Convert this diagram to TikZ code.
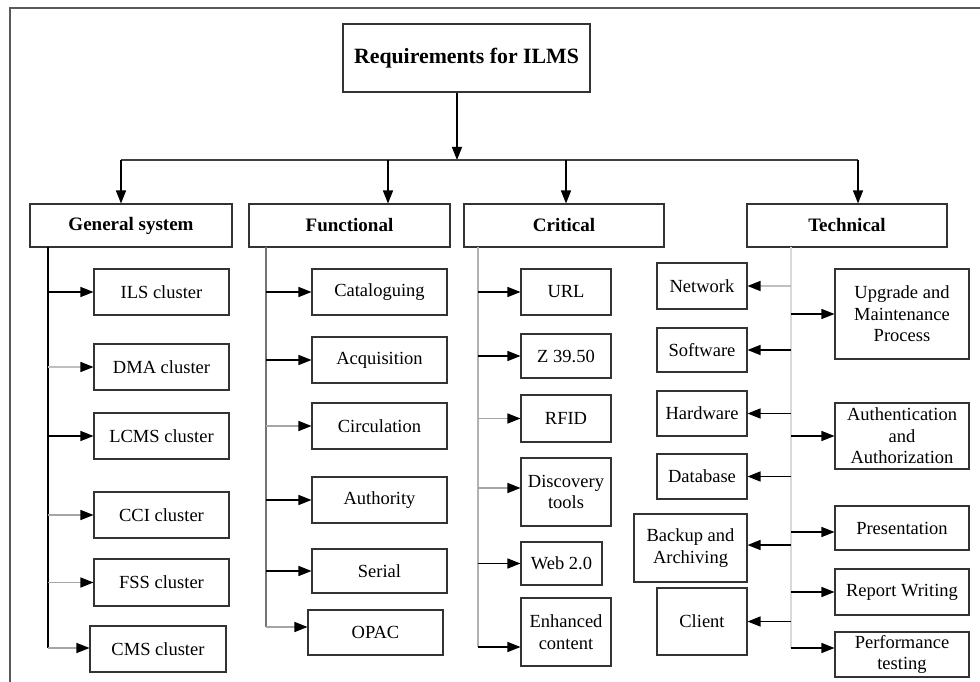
\documentclass[tikz,border=0pt]{standalone}
\usepackage{fontspec}
\setmainfont{Liberation Serif}
\usetikzlibrary{arrows.meta}
\begin{document}
\begin{tikzpicture}[x=1pt,y=-1pt,
  box/.style={draw=black!80, line width=1.1pt, inner sep=0pt, align=center, font=\fontsize{18.5}{21.5}\selectfont},
  cat/.style={box, font=\fontsize{19}{22}\selectfont\bfseries},
  ln/.style={line width=1.3pt},
  arr/.style={line width=1.3pt, -{Triangle[length=13pt,width=10pt,color=black]}},
  arrg/.style={arr, draw=black!35},
  arrl/.style={arr, draw=black!25}
]
\useasboundingbox (0,0) rectangle (980,682);
% frame
\draw[line width=1.2pt, black!65] (10,682) -- (10,8) -- (980,8);

% top
\node[box, font=\fontsize{21.8}{25}\selectfont\bfseries, minimum width=247pt, minimum height=68pt] (top) at (466.5,58) {Requirements for ILMS};
\coordinate (bar) at (457,160);
\coordinate (bl) at (121,160);
\coordinate (br) at (858,160);
\draw[arr] (top.south -| bar) -- (bar);
\draw[line width=1.6pt, black!75] (bl) -- (br);

% categories
\node[cat, minimum width=202pt, minimum height=43pt] (gen) at (131,225.5) {General system};
\node[cat, minimum width=201pt, minimum height=43pt] (func) at (349.5,225.5) {Functional};
\node[cat, minimum width=200pt, minimum height=43pt] (crit) at (564,225.5) {Critical};
\node[cat, minimum width=200pt, minimum height=43pt] (tech) at (847,225.5) {Technical};

\coordinate (b1) at (121,160);
\coordinate (b2) at (388,160);
\coordinate (b3) at (566,160);
\coordinate (b4) at (858,160);
\draw[arr] (b1) -- (b1 |- gen.north);
\draw[arr] (b2) -- (b2 |- func.north);
\draw[arr] (b3) -- (b3 |- crit.north);
\draw[arr] (b4) -- (b4 |- tech.north);

% General system children
\node[box, minimum width=135pt, minimum height=46pt] (ils) at (161.5,292) {ILS cluster};
\node[box, minimum width=135pt, minimum height=46pt] (dma) at (161.5,367) {DMA cluster};
\node[box, minimum width=135pt, minimum height=46pt] (lcms) at (161.5,436) {LCMS cluster};
\node[box, minimum width=135pt, minimum height=46pt] (cci) at (161.5,515) {CCI cluster};
\node[box, minimum width=135pt, minimum height=47pt] (fss) at (161.5,582.5) {FSS cluster};
\node[box, minimum width=136pt, minimum height=46pt] (cms) at (158,649) {CMS cluster};
\coordinate (gt) at (48,247);
\coordinate (gb) at (48,648);
\draw[ln] (gt) -- (gb);
\draw[arr] (gt |- ils.west) -- (ils.west);
\draw[arrl] (gt |- dma.west) -- (dma.west);
\draw[arr] (gt |- lcms.west) -- (lcms.west);
\draw[arrg] (gt |- cci.west) -- (cci.west);
\draw[arrg] (gt |- fss.west) -- (fss.west);
\draw[arrg] (gb) -- (gb -| cms.west);

% Functional children
\node[box, minimum width=135pt, minimum height=46pt] (catl) at (379.5,292) {Cataloguing};
\node[box, minimum width=135pt, minimum height=46pt] (acq) at (379.5,360) {Acquisition};
\node[box, minimum width=135pt, minimum height=46pt] (circ) at (379.5,426) {Circulation};
\node[box, minimum width=135pt, minimum height=46pt] (auth) at (379.5,500) {Authority};
\node[box, minimum width=135pt, minimum height=44pt] (ser) at (379.5,571) {Serial};
\node[box, minimum width=135pt, minimum height=45pt] (opac) at (375.5,632.5) {OPAC};
\coordinate (ft) at (266,247);
\coordinate (fb) at (266,627);
\draw[ln, black!55] (ft) -- (fb);
\draw[arr] (ft |- catl.west) -- (catl.west);
\draw[arr] (ft |- acq.west) -- (acq.west);
\draw[arrg] (ft |- circ.west) -- (circ.west);
\draw[arr] (ft |- auth.west) -- (auth.west);
\draw[arr] (ft |- ser.west) -- (ser.west);
\draw[arrg] (fb) -- (fb -| opac.west);

% Critical children
\node[box, minimum width=90pt, minimum height=46pt] (url) at (566,292) {URL};
\node[box, minimum width=90pt, minimum height=44pt] (z) at (566,356) {Z 39.50};
\node[box, minimum width=90pt, minimum height=47pt] (rfid) at (566,418.5) {RFID};
\node[box, minimum width=90pt, minimum height=68pt] (disc) at (566,492) {Discovery\\tools};
\node[box, minimum width=81pt, minimum height=43pt] (web) at (561.5,563.5) {Web 2.0};
\node[box, minimum width=90pt, minimum height=68pt] (enh) at (566,632) {Enhanced\\content};
\coordinate (ct) at (478,247);
\coordinate (cb) at (478,647);
\draw[ln, black!30] (ct) -- (cb);
\draw[arr] (ct |- url.west) -- (url.west);
\draw[arr] (ct |- z.west) -- (z.west);
\draw[arrg] (ct |- rfid.west) -- (rfid.west);
\draw[arrg] (ct |- 0,488) -- (disc.west |- 0,488);
\draw[arr] (ct |- web.west) -- (web.west);
\draw[arr] (cb) -- (cb -| enh.west);

% Technical children (left)
\node[box, minimum width=90pt, minimum height=46pt] (net) at (702,286) {Network};
\node[box, minimum width=90pt, minimum height=44pt] (soft) at (702,350) {Software};
\node[box, minimum width=90pt, minimum height=45pt] (hard) at (702,413.5) {Hardware};
\node[box, minimum width=90pt, minimum height=45pt] (db) at (702,476.5) {Database};
\node[box, minimum width=113pt, minimum height=68pt] (backup) at (690.5,548) {Backup and\\Archiving};
\node[box, minimum width=90pt, minimum height=67pt] (client) at (702,621.5) {Client};
% Technical children (right)
\node[box, minimum width=134pt, minimum height=90pt] (upg) at (902,314) {Upgrade and\\Maintenance\\Process};
\node[box, minimum width=134pt, minimum height=66pt] (authz) at (902,436) {Authentication\\and\\Authorization};
\node[box, minimum width=134pt, minimum height=44pt] (pres) at (902,528) {Presentation};
\node[box, minimum width=134pt, minimum height=46pt] (rep) at (902,592) {Report Writing};
\node[box, minimum width=134pt, minimum height=45pt] (perf) at (902,654.5) {Performance\\testing};
\coordinate (tt) at (791,247);
\coordinate (tb) at (791,648);
\draw[ln, black!15] (tt) -- (tb);
\draw[arrl] (tt |- net.east) -- (net.east);
\draw[arr] (tt |- soft.east) -- (soft.east);
\draw[arr] (tt |- hard.east) -- (hard.east);
\draw[arr] (tt |- db.east) -- (db.east);
\draw[arr] (tt |- 0,545) -- (backup.east |- 0,545);
\draw[arr] (tt |- client.east) -- (client.east);
\draw[arr] (tt |- upg.west) -- (upg.west);
\draw[arr] (tt |- authz.west) -- (authz.west);
\draw[arr] (tt |- 0,532) -- (pres.west |- 0,532);
\draw[arr] (tt |- rep.west) -- (rep.west);
\draw[arr] (tb) -- (tb -| perf.west);
\end{tikzpicture}
\end{document}
